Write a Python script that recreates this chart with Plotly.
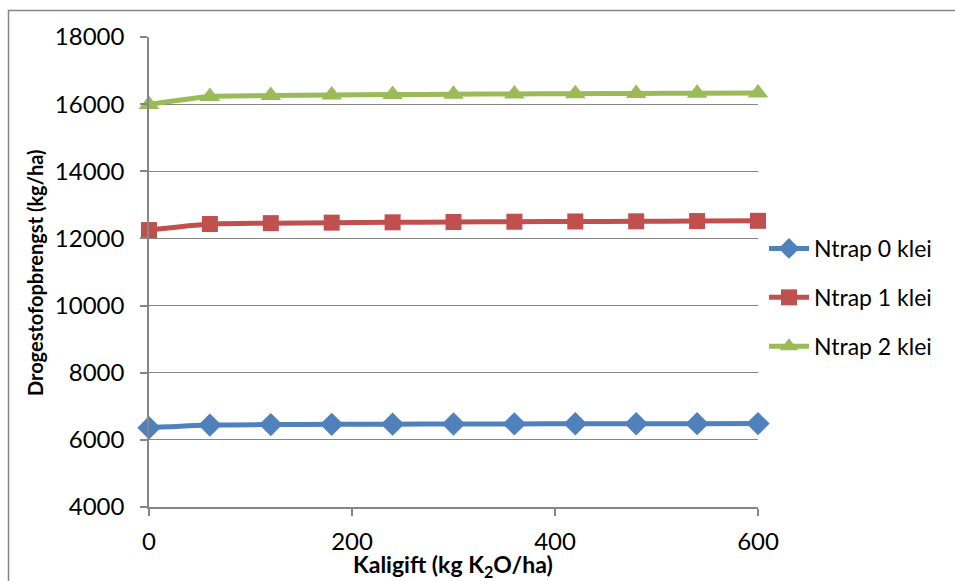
import plotly.graph_objects as go

# Potassium rate (kg K2O/ha)
kaligift = [0, 60, 120, 180, 240, 300, 360, 420, 480, 540, 600]

# Dry-matter yield (kg/ha) per N level on clay
ntrap0 = [6360, 6440, 6455, 6462, 6468, 6472, 6475, 6478, 6480, 6483, 6485]
ntrap1 = [12250, 12430, 12455, 12470, 12480, 12490, 12497, 12505, 12510, 12517, 12525]
ntrap2 = [15990, 16230, 16255, 16270, 16285, 16295, 16305, 16312, 16318, 16325, 16335]

series_names = ["Ntrap 0 klei", "Ntrap 1 klei", "Ntrap 2 klei"]
series_values = [ntrap0, ntrap1, ntrap2]
colors = ["#4F81BD", "#C0504D", "#9BBB59"]
symbols = ["diamond", "square", "triangle-up"]
marker_sizes = [18, 16, 18]

y_ticks = [4000, 6000, 8000, 10000, 12000, 14000, 16000, 18000]
y_tick_labels = [str(v) for v in y_ticks]
x_ticks = [0, 200, 400, 600]
x_tick_labels = [str(v) for v in x_ticks]

FONT = "Lato"
W, H = 955, 581
L, R, T, B = 149, 197, 37, 74

fig = go.Figure()
for i, (name, vals) in enumerate(zip(series_names, series_values)):
    fig.add_trace(go.Scatter(
        x=kaligift, y=vals, name=name, mode="lines+markers",
        line=dict(color=colors[i], width=5, shape="spline", smoothing=0.6),
        marker=dict(symbol=symbols[i], size=marker_sizes[i], color=colors[i]),
        cliponaxis=False, legendgroup=name,
    ))

pw = W - L - R
ph = H - T - B
tick_font = dict(family=FONT, size=24, color="black")

fig.update_layout(
    width=W, height=H,
    margin=dict(l=L, r=R, t=T, b=B, pad=0),
    paper_bgcolor="white", plot_bgcolor="white",
    font=dict(family=FONT, size=23, color="black"),
    showlegend=True,
    legend=dict(
        x=(764 - L) / pw, y=1 - (227 - T) / ph, xanchor="left", yanchor="top",
        font=dict(family=FONT, size=23, color="black"),
        bgcolor="rgba(0,0,0,0)", tracegroupgap=16, traceorder="grouped",
        itemwidth=40,
    ),
    xaxis=dict(
        range=[0, 600], tickvals=x_ticks, ticktext=x_tick_labels,
        tickfont=tick_font, showgrid=False, zeroline=False,
        showline=True, linecolor="#868686", linewidth=1.5,
        ticks="outside", ticklen=7, tickcolor="#868686", tickwidth=1.5,
        ticklabelstandoff=5,
    ),
    yaxis=dict(
        range=[4000, 18000], tickvals=y_ticks, ticktext=y_tick_labels,
        tickfont=tick_font, showgrid=True,
        gridcolor="#868686", gridwidth=1.2, zeroline=False,
        showline=True, linecolor="#868686", linewidth=1.5,
        ticks="outside", ticklen=7, tickcolor="#868686", tickwidth=1.5,
        ticklabelstandoff=11,
    ),
    annotations=[
        dict(text="<b>Drogestofopbrengst (kg/ha)</b>", textangle=-90,
             xref="paper", yref="paper", x=(35 - L) / pw, y=1 - (273 - T) / ph,
             xanchor="center", yanchor="middle", showarrow=False,
             font=dict(family=FONT, size=20, color="black")),
        dict(text="<b>Kaligift (kg K<sub>2</sub>O/ha)</b>",
             xref="paper", yref="paper", x=(453 - L) / pw, y=1 - (565 - T) / ph,
             xanchor="center", yanchor="middle", showarrow=False,
             font=dict(family=FONT, size=23, color="black")),
    ],
    shapes=[
        dict(type="rect", xref="paper", yref="paper",
             x0=(8.5 - L) / pw, x1=(980 - L) / pw,
             y0=1 - (620 - T) / ph, y1=1 + (T - 10.5) / ph,
             line=dict(color="#868686", width=1.5), fillcolor="rgba(0,0,0,0)",
             layer="below"),
    ],
)

fig.write_html("out.html")
